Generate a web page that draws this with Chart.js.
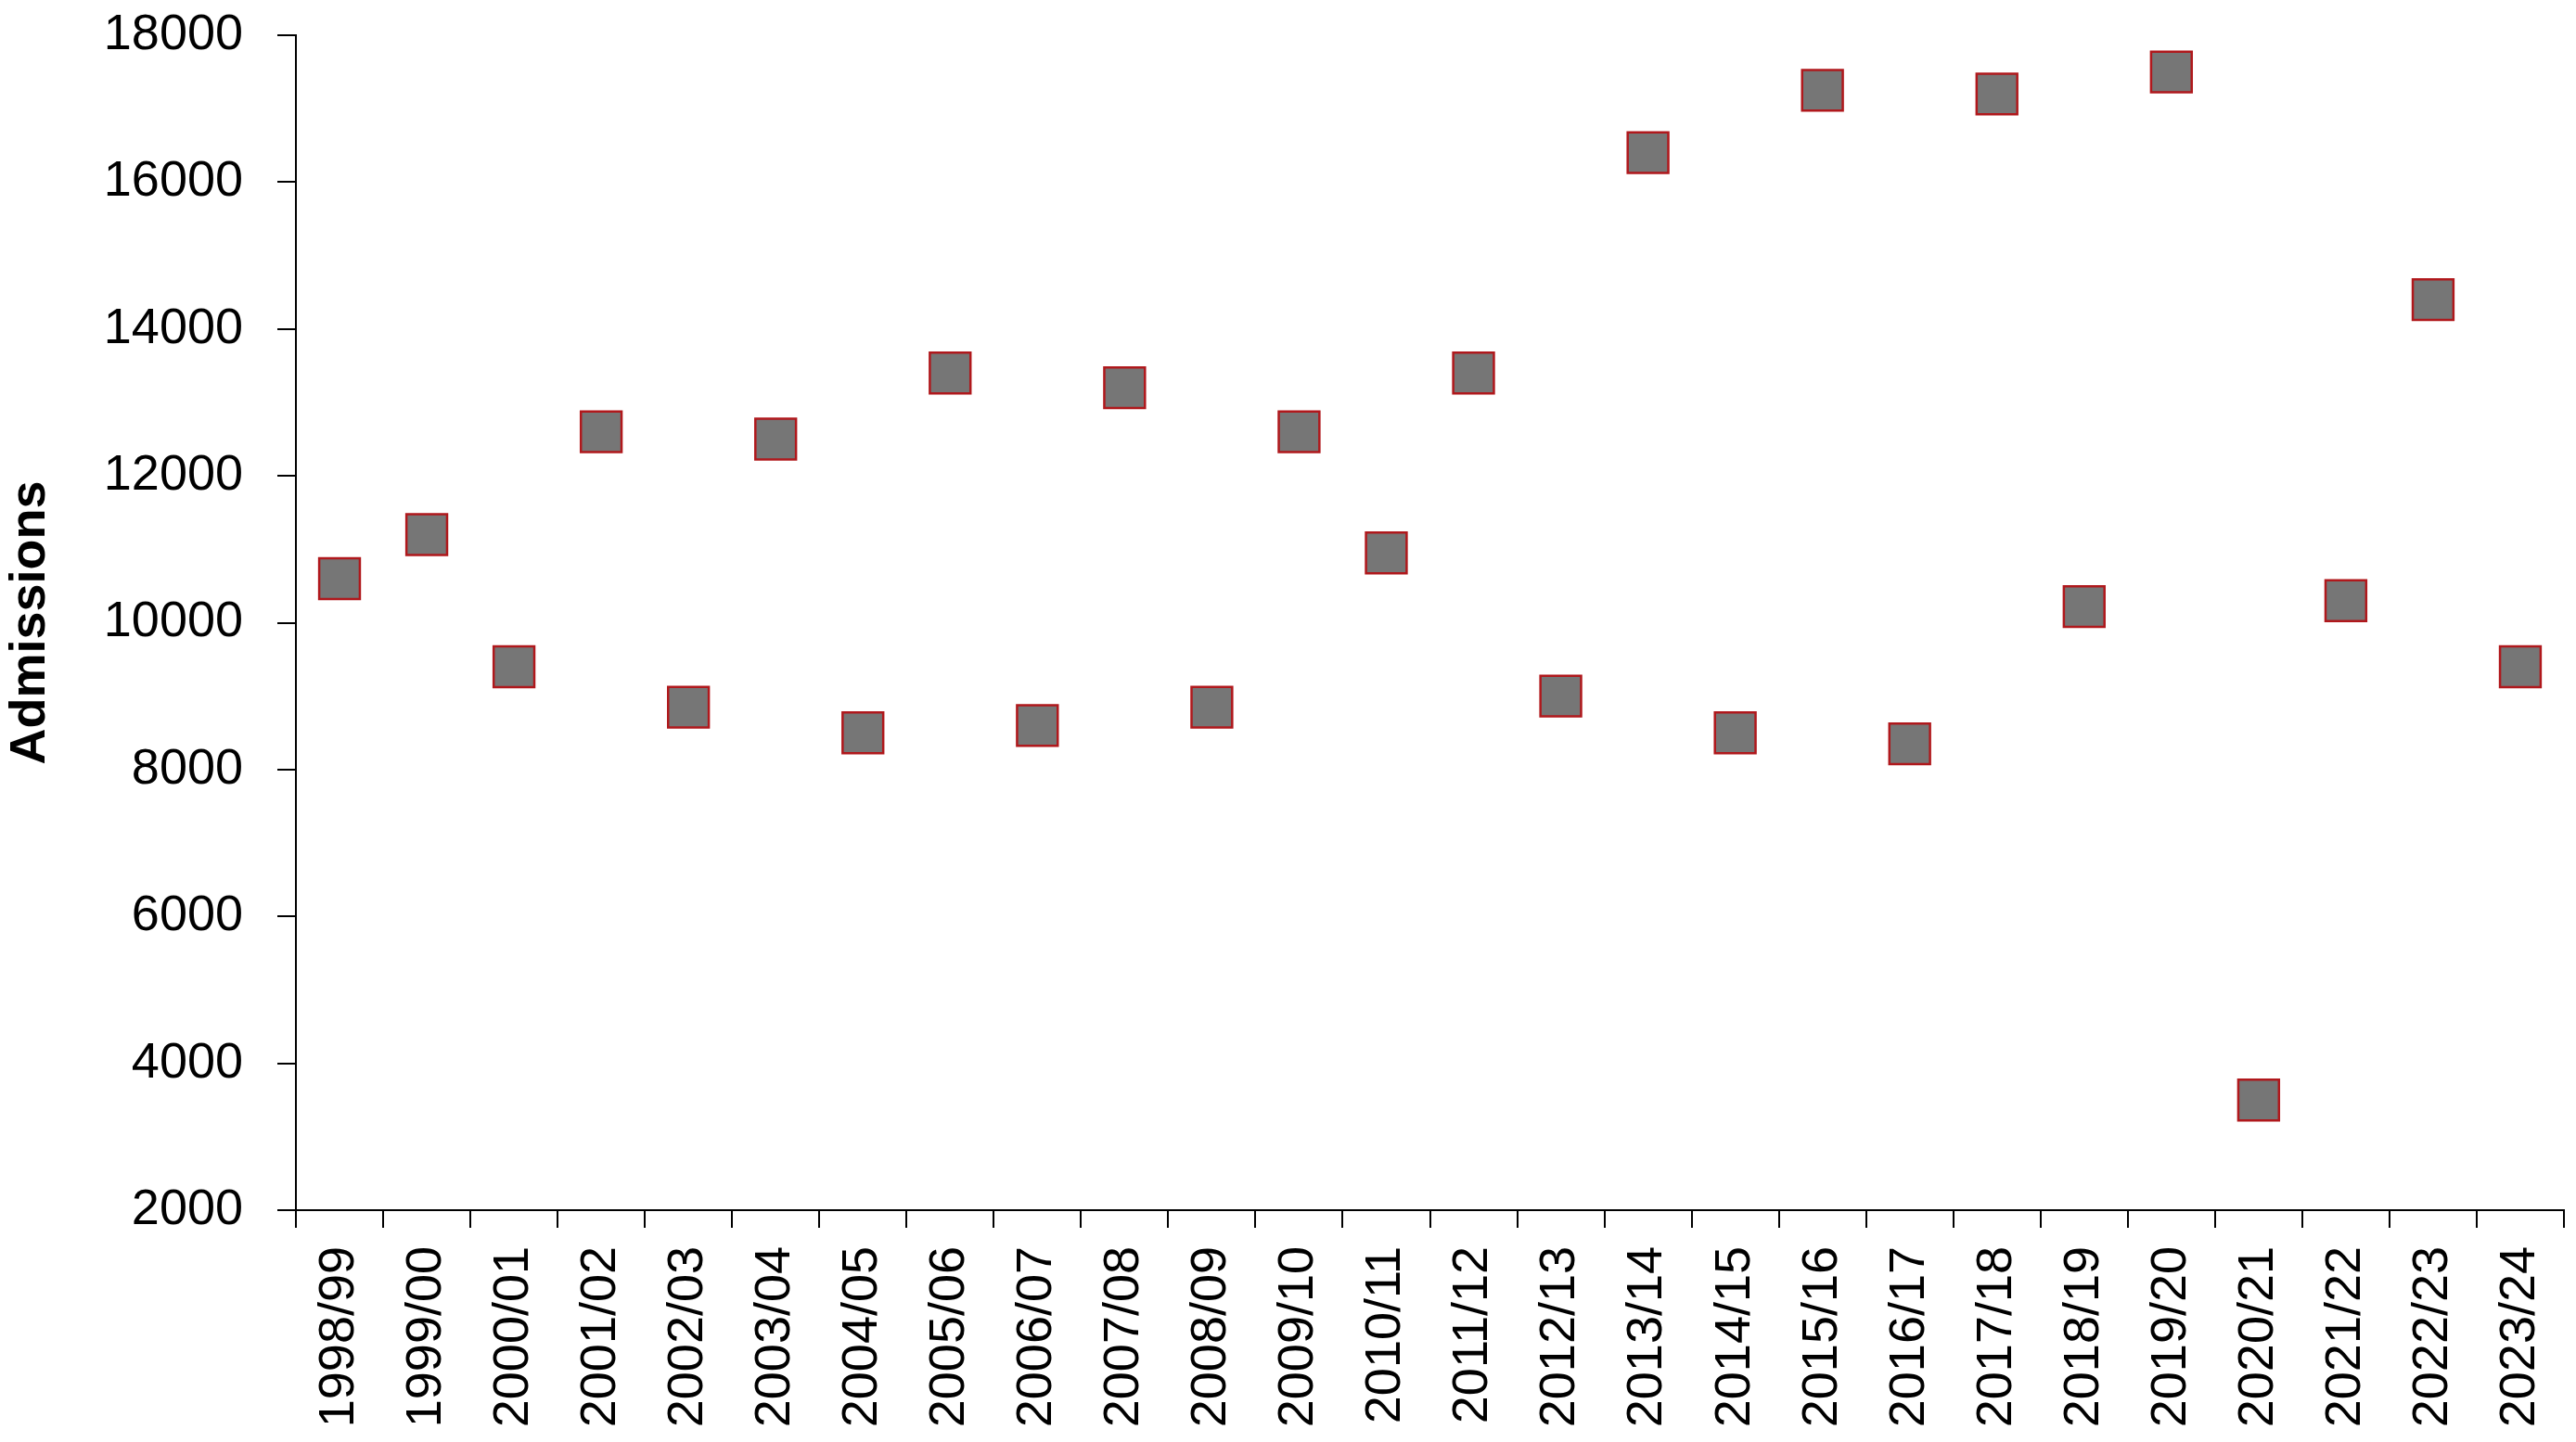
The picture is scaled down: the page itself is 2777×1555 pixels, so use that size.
<!DOCTYPE html>
<html>
<head>
<meta charset="utf-8">
<title>Admissions</title>
<script src="https://cdn.jsdelivr.net/npm/chart.js@4/dist/chart.umd.min.js"></script>
<style>
  html, body { margin: 0; padding: 0; background: #fff; }
  canvas { display: block; }
</style>
</head>
<body>
<canvas id="myChart" width="2777" height="1555"></canvas>
<script>
// financial years along the bottom
const years = ['1998/99', '1999/00', '2000/01', '2001/02', '2002/03', '2003/04', '2004/05',
  '2005/06', '2006/07', '2007/08', '2008/09', '2009/10', '2010/11', '2011/12', '2012/13',
  '2013/14', '2014/15', '2015/16', '2016/17', '2017/18', '2018/19', '2019/20', '2020/21',
  '2021/22', '2022/23', '2023/24'];

// admissions per year
const admissions = [10600, 11200, 9400, 12600, 8850, 12500, 8500,
  13400, 8600, 13200, 8850, 12600, 10950, 13400, 9000,
  16400, 8500, 17250, 8350, 17200, 10220, 17500, 3500,
  10300, 14400, 9400];

// y axis range
const yMin = 2000;
const yMax = 18000;
const yStep = 2000;

const font = '"Liberation Sans", Arial, sans-serif';

const ctx = document.getElementById("myChart").getContext("2d");

const data = {
  labels: years,
  datasets: [{
    label: 'Admissions',
    data: admissions,
    showLine: false,
    pointStyle: 'rect',
    pointRadius: 31,
    pointHoverRadius: 31,
    pointBorderWidth: 2.5,
    pointBackgroundColor: '#767676',
    pointBorderColor: '#b0181c',
    clip: false
  }]
};

const config = {
  type: 'line',
  data: data,
  options: {
    responsive: false,
    animation: false,
    devicePixelRatio: 1,
    layout: {
      autoPadding: false, // big markers would otherwise push the right edge in
      padding: { top: 38, right: 13, bottom: 0, left: 0 }
    },
    plugins: {
      legend: { display: false },
      tooltip: { enabled: false }
    },
    scales: {
      x: {
        type: 'category',
        offset: true,
        // fixed axis height, no extra side padding for the rotated labels
        afterFit: s => {
          s.height = 250;
          s.paddingLeft = 0;
          s.paddingRight = 0;
        },
        border: { display: true, color: '#000', width: 2 },
        grid: {
          offset: true,
          drawOnChartArea: false,
          color: '#000',
          lineWidth: 2,
          tickLength: 19
        },
        ticks: {
          color: '#000',
          font: { family: font, size: 54 },
          minRotation: 90,
          maxRotation: 90,
          autoSkip: false,
          padding: 20
        }
      },
      y: {
        min: yMin,
        max: yMax,
        afterFit: s => {
          s.width = 319;
          s.paddingTop = 0;
          s.paddingBottom = 0;
        },
        border: { display: true, color: '#000', width: 2 },
        grid: {
          drawOnChartArea: false,
          color: '#000',
          lineWidth: 2,
          tickLength: 20
        },
        ticks: {
          stepSize: yStep,
          color: '#000',
          font: { family: font, size: 54 },
          padding: 37,
          callback: v => String(v)
        },
        title: {
          display: true,
          text: 'Admissions',
          color: '#000',
          font: { family: font, size: 54, weight: 'bold' },
          padding: { top: 1, bottom: 0 }
        }
      }
    }
  }
};

const myChart = new Chart(ctx, config);
</script>
</body>
</html>
